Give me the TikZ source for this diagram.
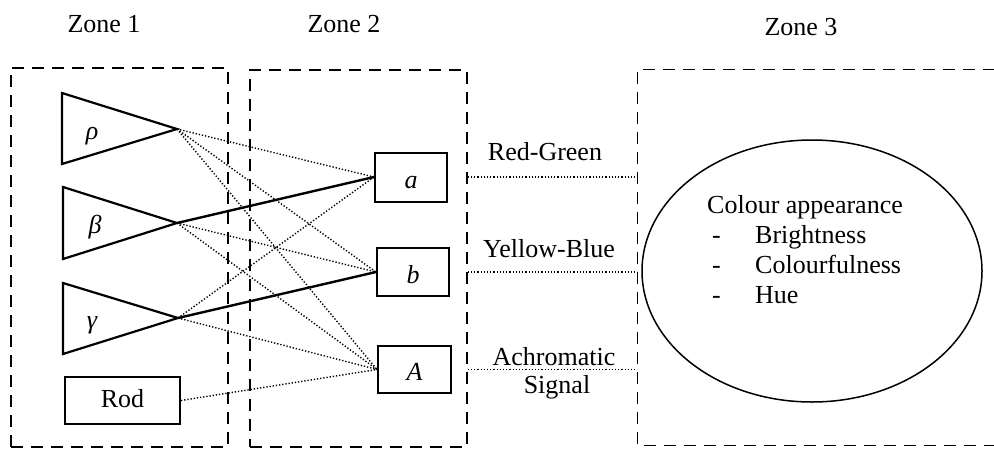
\documentclass[tikz,border=0pt]{standalone}
\usepackage{fontspec}
\setmainfont{Liberation Serif}
\usetikzlibrary{shapes.geometric}
\begin{document}
\begin{tikzpicture}[x=1pt,y=-1pt,
  font=\fontsize{26pt}{30pt}\selectfont,
  zone/.style={line width=1.4pt, dash pattern=on 12pt off 8pt, inner sep=0pt},
  cone/.style={draw, line width=2.2pt, line join=miter},
  stage/.style={draw, line width=2pt, inner sep=0pt, font=\fontsize{26pt}{30pt}\selectfont\itshape,
    text height=22pt, text depth=0pt},
  rodbox/.style={draw, line width=2pt, inner sep=0pt, text height=17pt, text depth=4pt,
    minimum width=115pt, minimum height=47pt},
  weak/.style={line width=1.4pt, dash pattern=on 1.3pt off 1.9pt},
  strong/.style={line width=2.4pt},
  lbl/.style={anchor=base, inner sep=0pt},
  greek/.style={anchor=base, inner sep=0pt, font=\fontsize{26pt}{30pt}\selectfont\itshape}]
\useasboundingbox (0,0) rectangle (994,453);

% zones
\node[zone, draw, minimum width=217pt, minimum height=379pt] (z1) at (119.5,257.5) {};
\node[zone, draw, minimum width=217pt, minimum height=377pt] (z2) at (358.5,258.5) {};
\node[zone, minimum width=356pt, minimum height=375pt] (z3) at (816,257.5) {};
\draw[zone] (z3.north east) -- (z3.north west) -- (z3.south west) -- (z3.south east);

\node[lbl] (t1) at (104,32) {Zone 1};
\node[lbl] (t2) at (344,32) {Zone 2};
\node[lbl] (t3) at (801,35) {Zone 3};

% cones
\draw[cone] (62,93) -- (177,129) coordinate (rho) -- (62,164) -- cycle;
\draw[cone] (63,187) -- (177,223) coordinate (beta) -- (63,259) -- cycle;
\draw[cone] (63,283) -- (178,318) coordinate (gamma) -- (63,354) -- cycle;
\node[greek] (lrho) at (92,139) {ρ};
\node[greek] (lbeta) at (95,233) {β};
\node[greek] (lgamma) at (92,328) {γ};
\node[rodbox] (rod) at (122.5,400.5) {Rod};

% second stage
\node[stage, minimum width=72pt, minimum height=49pt] (a) at (411,177) {a};
\node[stage, minimum width=72pt, minimum height=48pt] (b) at (413,272) {b};
\node[stage, minimum width=73pt, minimum height=47pt] (A) at (414.5,369.5) {A};

% connections
\draw[weak] (rho) -- (a.west);
\draw[weak] (rho) -- (b.west);
\draw[weak] (rho) -- (A.west);
\draw[strong] (beta) -- (a.west);
\draw[weak] (beta) -- (b.west);
\draw[weak] (beta) -- (A.west);
\draw[weak] (gamma) -- (a.west);
\draw[strong] (gamma) -- (b.west);
\draw[weak] (gamma) -- (A.west);
\draw[weak] (rod.east) -- (A.west);

% signals
\draw[weak] (z2.east |- a.west) -- (z3.west |- a.west);
\draw[weak] (z2.east |- b.west) -- (z3.west |- b.west);
\draw[weak] (z2.east |- A.west) -- (z3.west |- A.west);
\node[lbl] (rg) at (545,160) {Red-Green};
\node[lbl] (yb) at (549,257) {Yellow-Blue};
\node[lbl] (ac) at (554,365) {Achromatic};
\node[lbl] (sg) at (557,393) {Signal};

% zone 3
\node[draw, ellipse, line width=1.5pt, minimum width=340pt, minimum height=262pt, inner sep=0pt] (ell) at (812,271) {};
\node[anchor=base west, inner sep=0pt] (c0) at (707,213) {Colour appearance};
\node[anchor=base west, inner sep=0pt] (c1) at (707,243) {\makebox[48pt][l]{\hspace{5pt}-}Brightness};
\node[anchor=base west, inner sep=0pt] (c2) at (707,273) {\makebox[48pt][l]{\hspace{5pt}-}Colourfulness};
\node[anchor=base west, inner sep=0pt] (c3) at (707,303) {\makebox[48pt][l]{\hspace{5pt}-}Hue};
\end{tikzpicture}
\end{document}
